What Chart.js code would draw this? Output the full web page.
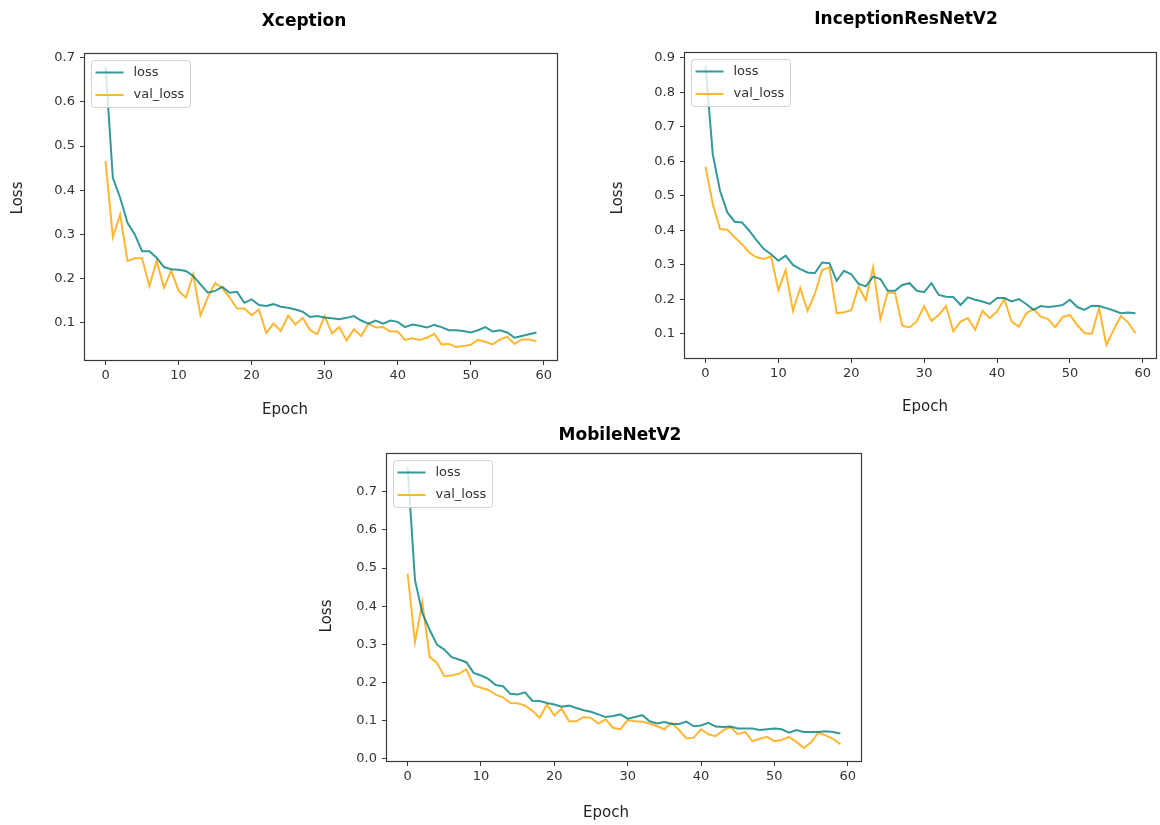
<!DOCTYPE html>
<html>
<head>
<meta charset="utf-8">
<script src="https://cdn.jsdelivr.net/npm/chart.js@4.4.1/dist/chart.umd.min.js"></script>
<style>
  html, body { margin: 0; padding: 0; background: #ffffff; }
  #page { position: relative; width: 1160px; height: 825px; overflow: hidden; background: #ffffff; }
  canvas { position: absolute; }
</style>
</head>
<body>
<div id="page">
  <canvas id="xception" width="600" height="420" style="left:0px;top:0px"></canvas>
  <canvas id="inception" width="580" height="420" style="left:580px;top:0px"></canvas>
  <canvas id="mobilenet" width="600" height="405" style="left:300px;top:420px"></canvas>
</div>
<script>
// Training history per model: one value per epoch (0..59)
const xceptionLoss = [
  0.679, 0.428, 0.383, 0.326, 0.300, 0.262, 0.262, 0.247, 0.226, 0.221,
  0.220, 0.217, 0.206, 0.187, 0.168, 0.172, 0.181, 0.168, 0.170, 0.145,
  0.153, 0.140, 0.138, 0.142, 0.136, 0.134, 0.130, 0.125, 0.113, 0.115,
  0.112, 0.110, 0.108, 0.111, 0.115, 0.105, 0.098, 0.105, 0.098, 0.105,
  0.102, 0.090, 0.096, 0.093, 0.089, 0.095, 0.090, 0.083, 0.083, 0.081,
  0.078, 0.083, 0.090, 0.080, 0.083, 0.078, 0.066, 0.070, 0.074, 0.078
];
const xceptionValLoss = [
  0.466, 0.294, 0.345, 0.240, 0.246, 0.246, 0.183, 0.240, 0.179, 0.218,
  0.172, 0.157, 0.209, 0.117, 0.157, 0.190, 0.178, 0.157, 0.132, 0.132,
  0.117, 0.130, 0.077, 0.098, 0.081, 0.116, 0.096, 0.111, 0.083, 0.074,
  0.115, 0.076, 0.090, 0.060, 0.085, 0.070, 0.098, 0.089, 0.090, 0.080,
  0.080, 0.061, 0.065, 0.061, 0.066, 0.075, 0.051, 0.052, 0.045, 0.047,
  0.050, 0.061, 0.057, 0.051, 0.062, 0.068, 0.052, 0.062, 0.062, 0.058
];
const inceptionLoss = [
  0.876, 0.620, 0.514, 0.452, 0.425, 0.423, 0.399, 0.372, 0.346, 0.331,
  0.312, 0.327, 0.300, 0.288, 0.278, 0.276, 0.307, 0.305, 0.254, 0.283,
  0.273, 0.245, 0.238, 0.266, 0.259, 0.225, 0.225, 0.242, 0.247, 0.225,
  0.221, 0.247, 0.213, 0.208, 0.207, 0.184, 0.206, 0.199, 0.194, 0.187,
  0.204, 0.204, 0.194, 0.201, 0.187, 0.170, 0.181, 0.178, 0.180, 0.184,
  0.199, 0.178, 0.170, 0.182, 0.181, 0.175, 0.168, 0.160, 0.162, 0.160
];
const inceptionValLoss = [
  0.584, 0.476, 0.404, 0.402, 0.380, 0.360, 0.336, 0.322, 0.317, 0.324,
  0.227, 0.285, 0.167, 0.233, 0.167, 0.216, 0.285, 0.293, 0.160, 0.163,
  0.169, 0.237, 0.198, 0.293, 0.143, 0.220, 0.219, 0.124, 0.119, 0.137,
  0.180, 0.138, 0.155, 0.181, 0.108, 0.136, 0.146, 0.112, 0.167, 0.146,
  0.165, 0.201, 0.136, 0.121, 0.160, 0.172, 0.150, 0.143, 0.120, 0.149,
  0.155, 0.126, 0.103, 0.100, 0.175, 0.068, 0.112, 0.152, 0.133, 0.102
];
const mobileLoss = [
  0.765, 0.469, 0.382, 0.338, 0.299, 0.286, 0.266, 0.260, 0.253, 0.225,
  0.218, 0.209, 0.193, 0.190, 0.170, 0.168, 0.174, 0.152, 0.151, 0.146,
  0.142, 0.136, 0.139, 0.133, 0.127, 0.123, 0.116, 0.109, 0.112, 0.116,
  0.105, 0.109, 0.114, 0.098, 0.092, 0.096, 0.091, 0.091, 0.097, 0.085,
  0.087, 0.094, 0.084, 0.083, 0.084, 0.079, 0.079, 0.079, 0.075, 0.077,
  0.079, 0.077, 0.068, 0.075, 0.070, 0.070, 0.070, 0.072, 0.070, 0.066
];
const mobileValLoss = [
  0.485, 0.305, 0.410, 0.267, 0.251, 0.216, 0.218, 0.223, 0.234, 0.192,
  0.186, 0.180, 0.168, 0.161, 0.146, 0.145, 0.139, 0.126, 0.107, 0.142,
  0.113, 0.131, 0.098, 0.098, 0.109, 0.107, 0.092, 0.103, 0.081, 0.077,
  0.101, 0.098, 0.097, 0.092, 0.085, 0.077, 0.094, 0.075, 0.053, 0.055,
  0.077, 0.064, 0.059, 0.074, 0.083, 0.064, 0.070, 0.046, 0.052, 0.057,
  0.046, 0.049, 0.057, 0.044, 0.028, 0.043, 0.068, 0.061, 0.052, 0.038
];

// Tick labels
const epochTicks = [0, 10, 20, 30, 40, 50, 60];
const xceptionLossTicks = [0.1, 0.2, 0.3, 0.4, 0.5, 0.6, 0.7];
const inceptionLossTicks = [0.1, 0.2, 0.3, 0.4, 0.5, 0.6, 0.7, 0.8, 0.9];
const mobileLossTicks = [0.0, 0.1, 0.2, 0.3, 0.4, 0.5, 0.6, 0.7];

const seriesNames = ['loss', 'val_loss'];
const xAxisTitle = 'Epoch';
const yAxisTitle = 'Loss';

const FONT = "'DejaVu Sans', 'Liberation Sans', sans-serif";
const LOSS_COLOR = 'rgba(0, 128, 128, 0.8)';
const VAL_COLOR = 'rgba(255, 165, 0, 0.8)';
const AXIS_COLOR = '#3a3a3a';

// Axis limits with a 5% margin around the data, the way pyplot autoscales
function paddedRange(values) {
  const lo = Math.min(...values), hi = Math.max(...values);
  const pad = (hi - lo) * 0.05;
  return { min: lo - pad, max: hi + pad };
}

// Box around the whole plotting area
const framePlugin = {
  id: 'frame',
  afterDraw(chart) {
    const { ctx, chartArea: a } = chart;
    const l = Math.round(a.left), t = Math.round(a.top);
    const r = Math.round(a.right), b = Math.round(a.bottom);
    ctx.save();
    ctx.strokeStyle = AXIS_COLOR;
    ctx.lineWidth = 1.2;
    ctx.strokeRect(l + 0.5, t + 0.5, r - l - 1, b - t - 1);
    ctx.restore();
  }
};

// Boxed legend in the upper-left corner of the plotting area
const boxLegendPlugin = {
  id: 'boxLegend',
  afterDatasetsDraw(chart) {
    const { ctx, chartArea: a } = chart;
    const sets = chart.data.datasets;
    ctx.save();
    ctx.font = '13px ' + FONT;
    let textW = 0;
    sets.forEach(d => { textW = Math.max(textW, ctx.measureText(d.label).width); });
    const x0 = a.left + 7.5, y0 = a.top + 7.5;
    const handle = 28, gap = 10, padL = 4, padR = 6;
    const w = Math.round(padL + handle + gap + textW + padR);
    const h = 47;
    const r = 3;
    ctx.beginPath();
    ctx.moveTo(x0 + r, y0);
    ctx.lineTo(x0 + w - r, y0);
    ctx.arcTo(x0 + w, y0, x0 + w, y0 + r, r);
    ctx.lineTo(x0 + w, y0 + h - r);
    ctx.arcTo(x0 + w, y0 + h, x0 + w - r, y0 + h, r);
    ctx.lineTo(x0 + r, y0 + h);
    ctx.arcTo(x0, y0 + h, x0, y0 + h - r, r);
    ctx.lineTo(x0, y0 + r);
    ctx.arcTo(x0, y0, x0 + r, y0, r);
    ctx.closePath();
    ctx.fillStyle = 'rgba(255,255,255,0.8)';
    ctx.fill();
    ctx.strokeStyle = 'rgba(204,204,204,0.9)';
    ctx.lineWidth = 1;
    ctx.stroke();
    sets.forEach((d, i) => {
      const cy = y0 + 12 + i * 22.5;
      ctx.strokeStyle = d.borderColor;
      ctx.lineWidth = d.borderWidth;
      ctx.beginPath();
      ctx.moveTo(x0 + padL, cy);
      ctx.lineTo(x0 + padL + handle, cy);
      ctx.stroke();
      ctx.fillStyle = '#333333';
      ctx.textBaseline = 'middle';
      ctx.textAlign = 'left';
      ctx.fillText(d.label, x0 + padL + handle + gap, cy);
    });
    ctx.restore();
  }
};

// Chart title and axis titles placed at fixed spots on the canvas
const captionsPlugin = {
  id: 'captions',
  afterDraw(chart, args, opts) {
    const { ctx } = chart;
    ctx.save();
    ctx.textAlign = 'center';
    ctx.textBaseline = 'middle';
    ctx.fillStyle = '#000000';
    ctx.font = 'bold 17px ' + FONT;
    ctx.fillText(opts.title, opts.titleAt[0], opts.titleAt[1]);
    ctx.fillStyle = '#222222';
    ctx.font = '15px ' + FONT;
    ctx.fillText(xAxisTitle, opts.xTitleAt[0], opts.xTitleAt[1]);
    ctx.translate(opts.yTitleAt[0], opts.yTitleAt[1]);
    ctx.rotate(-Math.PI / 2);
    ctx.fillText(yAxisTitle, 0, 0);
    ctx.restore();
  }
};

function makePanel(canvasId, title, loss, valLoss, yTicks, geom) {
  const epochs = loss.map((_, i) => i);
  const xr = paddedRange(epochs);
  const yr = paddedRange(loss.concat(valLoss));
  const tickFont = { family: FONT, size: 13 };
  return new Chart(document.getElementById(canvasId), {
    type: 'line',
    data: {
      datasets: [
        { label: seriesNames[0], data: loss.map((v, i) => ({ x: i, y: v })),
          borderColor: LOSS_COLOR, borderWidth: 2, pointRadius: 0, tension: 0, fill: false },
        { label: seriesNames[1], data: valLoss.map((v, i) => ({ x: i, y: v })),
          borderColor: VAL_COLOR, borderWidth: 2, pointRadius: 0, tension: 0, fill: false }
      ]
    },
    options: {
      responsive: false,
      animation: false,
      devicePixelRatio: 1,
      layout: { padding: { left: 0, top: geom.padTop, right: geom.padRight, bottom: 0 } },
      plugins: {
        legend: { display: false },
        tooltip: { enabled: false },
        captions: geom.captions
      },
      scales: {
        x: {
          type: 'linear',
          min: xr.min, max: xr.max,
          afterBuildTicks: s => { s.ticks = epochTicks.map(v => ({ value: v })); },
          afterFit: s => { s.height = geom.xAxisHeight; },
          grid: { display: true, drawOnChartArea: false, drawTicks: true, tickLength: 4, tickColor: AXIS_COLOR, tickWidth: 1 },
          border: { display: false },
          ticks: { color: '#333333', font: tickFont, padding: 3, maxRotation: 0, autoSkip: false,
                   callback: v => String(v) }
        },
        y: {
          type: 'linear',
          min: yr.min, max: yr.max,
          afterBuildTicks: s => { s.ticks = yTicks.map(v => ({ value: v })); },
          afterFit: s => { s.width = geom.yAxisWidth; },
          grid: { display: true, drawOnChartArea: false, drawTicks: true, tickLength: 4, tickColor: AXIS_COLOR, tickWidth: 1 },
          border: { display: false },
          ticks: { color: '#333333', font: tickFont, padding: 5, autoSkip: false,
                   callback: v => Number(v).toFixed(1) }
        }
      }
    },
    plugins: [framePlugin, boxLegendPlugin, captionsPlugin]
  });
}

makePanel('xception', 'Xception', xceptionLoss, xceptionValLoss, xceptionLossTicks, {
  padTop: 53, padRight: 42, yAxisWidth: 84, xAxisHeight: 59,
  captions: { title: 'Xception', titleAt: [304, 22], xTitleAt: [285, 410], yTitleAt: [18.5, 198] }
});
makePanel('inception', 'InceptionResNetV2', inceptionLoss, inceptionValLoss, inceptionLossTicks, {
  padTop: 52, padRight: 3, yAxisWidth: 104, xAxisHeight: 61,
  captions: { title: 'InceptionResNetV2', titleAt: [326, 20], xTitleAt: [345, 407], yTitleAt: [38.5, 198] }
});
makePanel('mobilenet', 'MobileNetV2', mobileLoss, mobileValLoss, mobileLossTicks, {
  padTop: 33, padRight: 38, yAxisWidth: 86, xAxisHeight: 63,
  captions: { title: 'MobileNetV2', titleAt: [320, 16], xTitleAt: [306, 393], yTitleAt: [27, 196] }
});
</script>
</body>
</html>
